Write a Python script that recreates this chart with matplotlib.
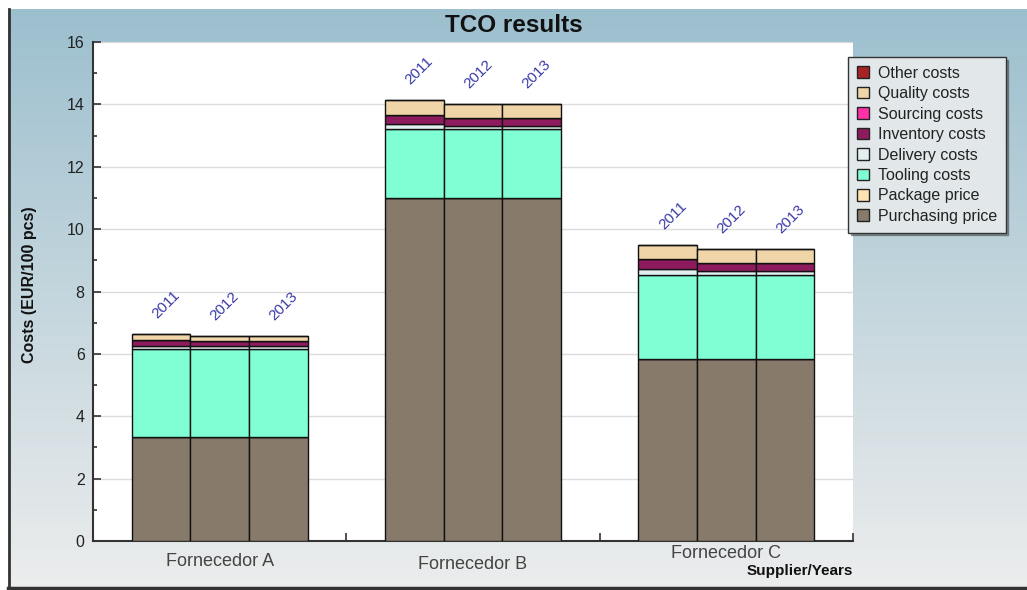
import numpy as np
import matplotlib
matplotlib.use("Agg")
import matplotlib.pyplot as plt
from matplotlib.patches import Patch

plt.rcParams['font.family'] = ['Liberation Sans', 'DejaVu Sans']

suppliers = ["Fornecedor A", "Fornecedor B", "Fornecedor C"]
years = ["2011", "2012", "2013"]

# Cost components per supplier (rows) and year (columns), EUR/100 pcs
purchasing_price = [[3.32, 3.32, 3.32], [11.00, 11.00, 11.00], [5.84, 5.84, 5.84]]
package_price    = [[0.00, 0.00, 0.00], [0.00, 0.00, 0.00], [0.00, 0.00, 0.00]]
tooling_costs    = [[2.83, 2.83, 2.83], [2.22, 2.22, 2.22], [2.69, 2.69, 2.69]]
delivery_costs   = [[0.10, 0.10, 0.10], [0.14, 0.08, 0.08], [0.18, 0.13, 0.13]]
inventory_costs  = [[0.19, 0.15, 0.15], [0.30, 0.27, 0.27], [0.32, 0.25, 0.25]]
sourcing_costs   = [[0.00, 0.00, 0.00], [0.00, 0.00, 0.00], [0.00, 0.00, 0.00]]
quality_costs    = [[0.20, 0.16, 0.16], [0.47, 0.45, 0.45], [0.46, 0.45, 0.45]]
other_costs      = [[0.00, 0.00, 0.00], [0.00, 0.00, 0.00], [0.00, 0.00, 0.00]]

components = [
    ("Purchasing price", purchasing_price, "#887a6a"),
    ("Package price", package_price, "#ffe2b0"),
    ("Tooling costs", tooling_costs, "#80ffd4"),
    ("Delivery costs", delivery_costs, "#e2f0f0"),
    ("Inventory costs", inventory_costs, "#8e1b5e"),
    ("Sourcing costs", sourcing_costs, "#ff30a8"),
    ("Quality costs", quality_costs, "#efd5a8"),
    ("Other costs", other_costs, "#a82424"),
]

W, H = 1027, 590
fig = plt.figure(figsize=(W / 100, H / 100), dpi=100)
fig.patch.set_facecolor("white")

# Gradient panel behind the chart
bg = fig.add_axes([0, 0, 1, 1], zorder=-10)
bg.set_xlim(0, W)
bg.set_ylim(H, 0)
bg.axis("off")
top_c = np.array([0x9c, 0xbf, 0xce]) / 255
bot_c = np.array([0xec, 0xed, 0xed]) / 255
t = np.linspace(0, 1, 256)[:, None]
grad = (top_c * (1 - t) + bot_c * t)[:, None, :]
bg.imshow(grad, extent=[8, W, 588, 9], aspect="auto", interpolation="bilinear")
bg.plot([8.5, 8.5], [9, 588], color="#333333", lw=2)
bg.plot([8, W], [587.5, 587.5], color="#333333", lw=2.5)

ax = fig.add_axes([93 / W, 49 / H, 760 / W, 499 / H])
ax.set_facecolor("white")

group_centers = np.array([0.5, 1.5, 2.5])
bar_w = 0.2317
offsets = np.array([-1, 0, 1]) * bar_w

for gi in range(len(suppliers)):
    for yi in range(len(years)):
        x = group_centers[gi] + offsets[yi]
        bottom = 0.0
        for name, vals, col in components:
            v = vals[gi][yi]
            ax.bar(x, v, width=bar_w, bottom=bottom, color=col,
                   edgecolor="#111111", linewidth=1.0, zorder=3)
            bottom += v
        ax.text(x + 0.02, bottom + 0.42, years[yi], rotation=45,
                ha="center", va="bottom", fontsize=11, color="#3a3aa8",
                zorder=4)

ax.set_xlim(0, 3)
ax.set_ylim(0, 16)
ax.set_yticks(np.arange(0, 17, 2))
ax.set_yticks(np.arange(1, 16, 2), minor=True)
ax.tick_params(axis="y", which="major", direction="in", length=6, width=1.2,
               labelsize=11.5, labelcolor="#222222", color="#333333", pad=6)
ax.tick_params(axis="y", which="minor", direction="in", length=3, width=1.2,
               color="#333333")
ax.set_xticks([0, 1, 2, 3])
ax.set_xticklabels([])
ax.tick_params(axis="x", which="major", direction="in", length=6, width=1.2,
               color="#333333")
ax.grid(axis="y", which="major", color="#dcdcdc", linewidth=1, zorder=0)
for s in ("top", "right"):
    ax.spines[s].set_visible(False)
for s in ("left", "bottom"):
    ax.spines[s].set_color("#333333")
    ax.spines[s].set_linewidth(1.5)

# Supplier names below each group
name_y = [-0.042, -0.048, -0.026]
for gi, name in enumerate(suppliers):
    ax.text(group_centers[gi] / 3, name_y[gi], name, transform=ax.transAxes,
            ha="center", va="center", fontsize=13, color="#444444")

ax.text(1.0, -0.06, "Supplier/Years", transform=ax.transAxes, ha="right",
        va="center", fontsize=11, fontweight="bold", color="#111111")

fig.text(30 / W, 1 - 285 / H, "Costs (EUR/100 pcs)", rotation=90,
         ha="center", va="center", fontsize=11.5, fontweight="bold",
         color="#111111")
fig.text(0.5, 1 - 25 / H, "TCO results", ha="center", va="center",
         fontsize=17.5, fontweight="bold", color="#111111")

handles = [Patch(facecolor=col, edgecolor="#222222", label=name)
           for name, _, col in reversed(components)]
leg = fig.legend(handles=handles, loc="upper left",
                 bbox_to_anchor=(848 / W, 1 - 57 / H), fontsize=11.5,
                 frameon=True, fancybox=False, shadow=True,
                 handlelength=0.75, handleheight=0.75, handletextpad=0.55,
                 labelspacing=0.34, borderpad=0.55, borderaxespad=0)
leg.get_frame().set_facecolor("#e2e8ea")
leg.get_frame().set_edgecolor("#333333")
leg.get_frame().set_alpha(1)
for txt in leg.get_texts():
    txt.set_color("#222222")

fig.savefig("out.png", dpi=100)
